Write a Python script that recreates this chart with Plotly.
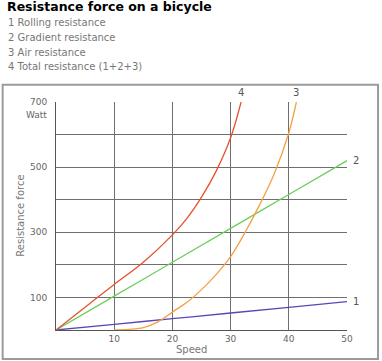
import plotly.graph_objects as go

# ---- data ----
rolling_speed = [0, 10, 20, 30, 40, 50]
rolling_power = [0, 17.4, 34.8, 52.2, 69.6, 87]

gradient_speed = [0, 10, 20, 30, 40, 50]
gradient_power = [0, 104, 208, 312, 416, 520]

air_speed = [10, 12.5, 15, 17.5, 20, 22.5, 25, 27.5, 30, 32.5, 35, 37.5, 40, 41.3]
air_power = [0, 2, 7, 25, 55, 85, 124, 170, 225, 300, 385, 480, 605, 700]

total_speed = [0, 5, 10, 15, 20, 22.5, 25, 27.5, 30, 31.8]
total_power = [0, 70, 140, 208, 292, 343, 408, 487, 590, 700]

x_ticks = [10, 20, 30, 40, 50]
y_grid = [100, 200, 300, 400, 500, 600, 700]
y_labels = ["100", "", "300", "", "500", "", "700"]

legend_lines = ["1 Rolling resistance", "2 Gradient resistance",
                "3 Air resistance", "4 Total resistance (1+2+3)"]

colors = {"1": "#5a46b4", "2": "#6ccf5c", "3": "#f5a040", "4": "#e8502c"}

FONT = "DejaVu Sans"
GREY = "#666666"

fig = go.Figure()
series = [("1", rolling_speed, rolling_power),
          ("2", gradient_speed, gradient_power),
          ("3", air_speed, air_power),
          ("4", total_speed, total_power)]
for name, xs, ys in series:
    fig.add_trace(go.Scatter(x=xs, y=ys, mode="lines", name=name,
                             line=dict(color=colors[name], width=1.3,
                                       shape="spline", smoothing=1.0),
                             showlegend=False, hoverinfo="skip"))

# end-of-line labels
fig.add_annotation(x=rolling_speed[-1], y=rolling_power[-1], text="1", showarrow=False,
                   xanchor="left", xshift=4, font=dict(family=FONT, size=10, color="#555"))
fig.add_annotation(x=gradient_speed[-1], y=gradient_power[-1], text="2", showarrow=False,
                   xanchor="left", xshift=4, font=dict(family=FONT, size=10, color="#555"))
fig.add_annotation(x=air_speed[-1], y=air_power[-1], text="3", showarrow=False,
                   yanchor="bottom", yshift=2, font=dict(family=FONT, size=10, color="#555"))
fig.add_annotation(x=total_speed[-1], y=total_power[-1], text="4", showarrow=False,
                   yanchor="bottom", yshift=2, font=dict(family=FONT, size=10, color="#555"))

# plot area in pixels: left 56, right 347, top 102, bottom 330
PL, PT = 56.3, 102.3

def txt(text, left, cy, size, color, bold=False):
    fig.add_annotation(xref="paper", yref="paper", x=0, y=1, xanchor="left", yanchor="middle",
                       xshift=left - PL, yshift=PT - cy, text=("<b>%s</b>" % text) if bold else text,
                       showarrow=False, font=dict(family=FONT, size=size, color=color))

txt("Resistance force on a bicycle", 5, 7, 12.5, "#000000", bold=True)
for i, line in enumerate(legend_lines):
    txt(line, 6, 23 + i * 14.7, 10, "#777777")

# Watt unit under the 700 label
fig.add_annotation(xref="paper", yref="paper", x=0, y=1, xanchor="right", yanchor="middle",
                   xshift=49 - PL, yshift=PT - 115, text="Watt", showarrow=False,
                   font=dict(family=FONT, size=9, color=GREY))
# axis titles
fig.add_annotation(xref="paper", yref="paper", x=0, y=0.5, xanchor="center", yanchor="middle",
                   xshift=20 - PL, text="Resistance force", textangle=-90, showarrow=False,
                   font=dict(family=FONT, size=10, color="#777777"))
fig.add_annotation(xref="paper", yref="paper", x=0, y=0, xanchor="center", yanchor="middle",
                   xshift=192 - PL, yshift=330 - 349, text="Speed", showarrow=False,
                   font=dict(family=FONT, size=10, color="#777777"))

# outer frame
fig.add_shape(type="rect", xref="paper", yref="paper",
              x0=(3 - PL) / 290.7, x1=(378 - PL) / 290.7,
              y0=(330 - 359) / 227.7, y1=(330 - 85) / 227.7,
              line=dict(color="#9a9a9a", width=2), fillcolor="rgba(0,0,0,0)", layer="below")

fig.update_xaxes(range=[0, 50], tickvals=x_ticks, ticktext=[str(v) for v in x_ticks],
                 showgrid=True, gridcolor="#6f6f6f", gridwidth=1,
                 showline=True, linecolor="#555555", linewidth=1,
                 zeroline=False, ticks="", ticklabelstandoff=0,
                 tickfont=dict(family=FONT, size=9, color=GREY), fixedrange=True)
fig.update_yaxes(range=[0, 700], tickvals=y_grid, ticktext=y_labels,
                 showgrid=True, gridcolor="#6f6f6f", gridwidth=1,
                 showline=True, linecolor="#555555", linewidth=1,
                 zeroline=False, ticks="", ticklabelstandoff=6,
                 tickfont=dict(family=FONT, size=9, color=GREY), fixedrange=True)

fig.update_layout(width=382, height=361,
                  margin=dict(l=56, r=35, t=102, b=31, autoexpand=False),
                  paper_bgcolor="white", plot_bgcolor="white",
                  font=dict(family=FONT))

fig.write_html("out.html", config={"displayModeBar": False},
               post_script="document.body.style.margin='0';document.body.style.overflow='hidden';")
